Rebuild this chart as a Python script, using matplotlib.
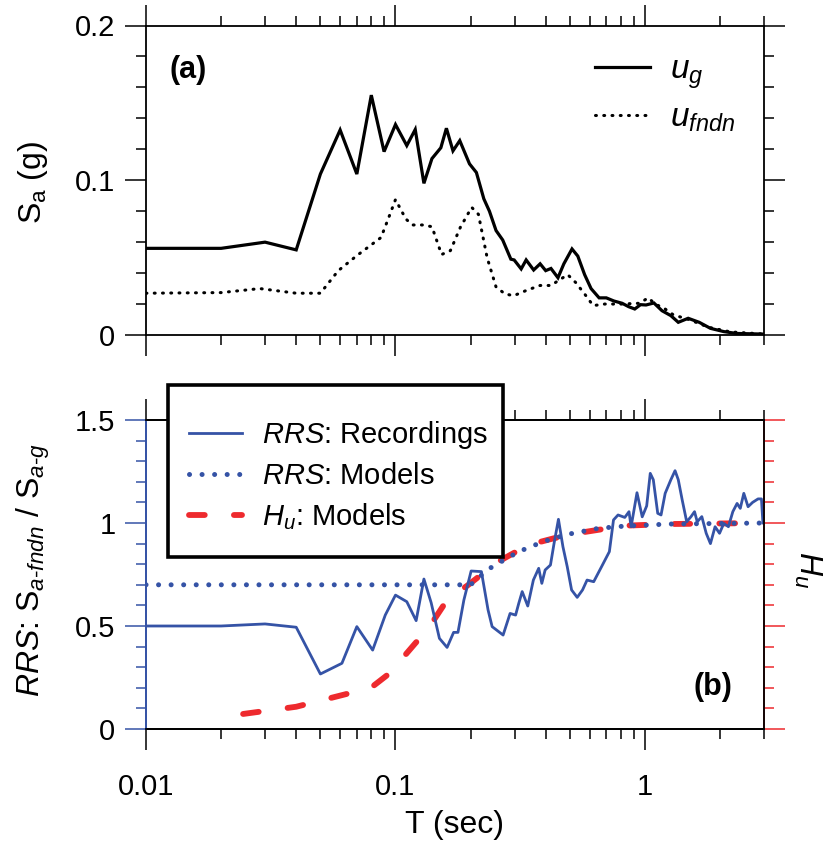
import matplotlib
matplotlib.use("Agg")
import matplotlib.pyplot as plt
from matplotlib.ticker import MultipleLocator, LogLocator, FixedLocator, NullFormatter, FixedFormatter
from matplotlib.lines import Line2D
from matplotlib.patches import Rectangle

plt.rcParams['font.family'] = ['Liberation Sans', 'DejaVu Sans']
plt.rcParams['mathtext.fontset'] = 'custom'
plt.rcParams['mathtext.rm'] = 'Liberation Sans'
plt.rcParams['mathtext.it'] = 'Liberation Sans:italic'
plt.rcParams['mathtext.bf'] = 'Liberation Sans:bold'

# ---------------- data ----------------
T_g = [0.01, 0.02, 0.03, 0.04, 0.05, 0.06, 0.07, 0.08, 0.09, 0.10, 0.111, 0.12, 0.13, 0.14,
       0.152, 0.16, 0.17, 0.181, 0.198, 0.211, 0.226, 0.238, 0.253, 0.269, 0.29, 0.299, 0.319,
       0.334, 0.358, 0.38, 0.40, 0.42, 0.448, 0.473, 0.51, 0.538, 0.573, 0.608, 0.655, 0.70,
       0.75, 0.81, 0.86, 0.91, 0.96, 1.01, 1.086, 1.17, 1.27, 1.36, 1.49, 1.65, 1.83, 2.07,
       2.33, 2.98]
Sa_g = [0.056, 0.056, 0.060, 0.055, 0.104, 0.1325, 0.104, 0.155, 0.1185, 0.136, 0.1224, 0.1328,
        0.098, 0.114, 0.121, 0.1336, 0.119, 0.1256, 0.1106, 0.105, 0.088, 0.080, 0.0675, 0.0614,
        0.049, 0.0485, 0.0427, 0.0485, 0.042, 0.046, 0.0416, 0.043, 0.037, 0.046, 0.0556, 0.051,
        0.039, 0.030, 0.024, 0.024, 0.022, 0.0205, 0.0183, 0.0168, 0.0196, 0.0194, 0.0207,
        0.0157, 0.0125, 0.0082, 0.0108, 0.0082, 0.0043, 0.0022, 0.001, 0.0006]

T_f = [0.01, 0.02, 0.0286, 0.04, 0.05, 0.059, 0.07, 0.0875, 0.094, 0.10, 0.11, 0.117, 0.128,
       0.14, 0.153, 0.166, 0.182, 0.202, 0.215, 0.233, 0.253, 0.275, 0.298, 0.337, 0.38, 0.42,
       0.448, 0.49, 0.527, 0.573, 0.62, 0.69, 0.80, 0.95, 1.03, 1.10, 1.20, 1.30, 1.50, 1.80,
       2.20, 3.0]
Sa_f = [0.027, 0.0274, 0.030, 0.027, 0.027, 0.0416, 0.0513, 0.063, 0.076, 0.0875, 0.075, 0.0711,
        0.0711, 0.070, 0.052, 0.0545, 0.0696, 0.0825, 0.078, 0.050, 0.031, 0.0265, 0.0254, 0.029,
        0.032, 0.032, 0.035, 0.039, 0.034, 0.0265, 0.019, 0.020, 0.020, 0.0205, 0.024, 0.020,
        0.017, 0.013, 0.010, 0.005, 0.002, 0.0006]

T_rec = [0.01, 0.02, 0.03, 0.04, 0.05, 0.061, 0.07, 0.081, 0.091, 0.10, 0.111, 0.121, 0.13,
         0.139, 0.15, 0.161, 0.171, 0.178, 0.188, 0.201, 0.221, 0.235, 0.244, 0.27, 0.288, 0.303,
         0.312, 0.322, 0.339, 0.357, 0.375, 0.386, 0.398, 0.418, 0.432, 0.45, 0.469, 0.488, 0.508,
         0.535, 0.562, 0.586, 0.623, 0.67, 0.72, 0.748, 0.78, 0.83, 0.863, 0.88, 0.929, 0.975,
         1.016, 1.05, 1.08, 1.125, 1.16, 1.205, 1.27, 1.32, 1.36, 1.41, 1.47, 1.53, 1.58, 1.62,
         1.69, 1.76, 1.83, 1.91, 1.99, 2.07, 2.16, 2.25, 2.34, 2.41, 2.49, 2.59, 2.70, 2.84, 2.93,
         2.97]
RRS_rec = [0.50, 0.50, 0.51, 0.494, 0.267, 0.319, 0.497, 0.383, 0.553, 0.65, 0.618, 0.526, 0.728,
           0.613, 0.44, 0.396, 0.469, 0.469, 0.626, 0.767, 0.764, 0.578, 0.497, 0.456, 0.561,
           0.553, 0.61, 0.667, 0.597, 0.723, 0.78, 0.707, 0.772, 0.796, 0.90, 1.018, 0.885, 0.788,
           0.675, 0.639, 0.675, 0.723, 0.715, 0.788, 0.861, 1.015, 1.039, 1.027, 1.055, 0.982,
           1.147, 1.03, 1.083, 1.241, 1.21, 1.047, 1.039, 1.144, 1.21, 1.254, 1.21, 1.112, 1.006,
           1.031, 1.055, 1.006, 1.031, 0.95, 0.90, 0.982, 0.95, 0.998, 0.982, 1.055, 1.095, 1.071,
           1.144, 1.079, 1.10, 1.117, 1.117, 1.0]

T_mod = [0.01, 0.05, 0.10, 0.15, 0.20, 0.235, 0.265, 0.312, 0.39, 0.49, 0.65, 0.83, 1.25, 3.0]
RRS_mod = [0.70, 0.70, 0.70, 0.70, 0.70, 0.775, 0.812, 0.861, 0.909, 0.945, 0.974, 0.985, 0.995, 1.0]

T_hu = [0.0245, 0.04, 0.0797, 0.0946, 0.12, 0.134, 0.161, 0.196, 0.216, 0.265, 0.34, 0.432, 0.55,
        0.83, 1.25, 3.0]
Hu = [0.073, 0.108, 0.20, 0.27, 0.416, 0.48, 0.626, 0.70, 0.74, 0.82, 0.893, 0.926, 0.953,
      0.987, 0.995, 1.0]

xticks = [0.01, 0.1, 1]
xticklabels = ['0.01', '0.1', '1']

BLUE = '#3553a6'
RED = '#ee2a2e'
FS_TICK = 21
FS_LAB = 23

RED_LS = (0, (2.7, 5.0))
DOT_LS = (0, (0.01, 2.5))

# ---------------- figure ----------------
fig = plt.figure(figsize=(8.33, 8.42), dpi=100)
W, H = 833, 842

def axrect(l, r, t, b):
    return [l / W, 1 - b / H, (r - l) / W, (b - t) / H]

ax1 = fig.add_axes(axrect(146, 764, 25.5, 335))
ax2 = fig.add_axes(axrect(146, 764, 420, 729), sharex=ax1)

def style_ticks(ax):
    ax.tick_params(which='major', direction='out', length=15, width=1.1, labelsize=FS_TICK, pad=7)
    ax.tick_params(which='minor', direction='out', length=7.5, width=1.1)

for ax in (ax1, ax2):
    for s in ax.spines.values():
        s.set_linewidth(1.3)
    ax.set_xscale('log')
    ax.set_xlim(0.01, 3)
    style_ticks(ax)

# ---- panel (a) ----
l_g, = ax1.plot(T_g, Sa_g, color='black', lw=2.3, solid_joinstyle='miter')
l_f, = ax1.plot(T_f, Sa_f, color='black', lw=2.2, linestyle=(0, (0.3, 2.4)),
                dash_capstyle='round')
ax1.set_ylim(0, 0.2)
ax1.yaxis.set_major_locator(FixedLocator([0, 0.1, 0.2]))
ax1.yaxis.set_major_formatter(FixedFormatter(['0', '0.1', '0.2']))
ax1.yaxis.set_minor_locator(MultipleLocator(0.02))
ax1.tick_params(which='both', top=True, right=True, labelbottom=False)
ax1.text(0.068, 0.855, '(a)', transform=ax1.transAxes, fontsize=22, fontweight='bold',
         ha='center', va='center')
leg1 = fig.legend([l_g, l_f], [r'$u_g$', r'$u_{fndn}$'], loc='upper left',
                  bbox_to_anchor=(585 / W, 1 - 45 / H), frameon=False,
                  fontsize=24, handlelength=1.65, handletextpad=0.6, labelspacing=0.35,
                  borderaxespad=0, borderpad=0.3)

# ---- panel (b) ----
ax2.plot(T_rec, RRS_rec, color=BLUE, lw=2.0)
ax2.plot(T_mod, RRS_mod, color=BLUE, lw=3.6, linestyle=DOT_LS, dash_capstyle='round')
ax2.set_ylim(0, 1.5)
ax2.yaxis.set_major_locator(FixedLocator([0, 0.5, 1, 1.5]))
ax2.yaxis.set_major_formatter(FixedFormatter(['0', '0.5', '1', '1.5']))
ax2.yaxis.set_minor_locator(MultipleLocator(0.1))
ax2.xaxis.set_major_locator(FixedLocator(xticks))
ax2.xaxis.set_major_formatter(FixedFormatter(xticklabels))
ax2.xaxis.set_minor_locator(LogLocator(base=10, subs=range(2, 10)))
ax2.xaxis.set_minor_formatter(NullFormatter())
ax2.tick_params(which='both', top=True, right=False)
ax2.tick_params(axis='x', which='major', pad=17)
ax2.tick_params(axis='y', which='both', colors=BLUE, labelcolor='black')
ax2.spines['left'].set_color(BLUE)

axr = ax2.twinx()
axr.set_ylim(0, 1.5)
axr.plot(T_hu, Hu, color=RED, lw=4.2, linestyle=RED_LS, dash_capstyle='round')
axr.yaxis.set_major_locator(FixedLocator([0, 0.5, 1, 1.5]))
axr.yaxis.set_minor_locator(MultipleLocator(0.1))
axr.tick_params(which='major', direction='out', length=15, width=1.1, colors=RED,
                labelright=False)
axr.tick_params(which='minor', direction='out', length=7.5, width=1.1, colors=RED)
axr.spines['right'].set_color(RED)
axr.spines['left'].set_color(BLUE)
for s in axr.spines.values():
    s.set_linewidth(1.3)
# keep the blue dotted model line on top of the red dashed one
ax2.set_zorder(axr.get_zorder() + 1)
ax2.patch.set_visible(False)

ax2.text(0.917, 0.135, '(b)', transform=ax2.transAxes, fontsize=22, fontweight='bold',
         ha='center', va='center')

# legend box of panel (b)
box = Rectangle((168 / W, 1 - 557 / H), (503 - 168) / W, (557 - 385) / H,
                transform=fig.transFigure, facecolor='white', edgecolor='black',
                linewidth=2.6, zorder=15)
fig.patches.append(box)

handles = [Line2D([], [], color=BLUE, lw=2.0),
           Line2D([], [], color=BLUE, lw=3.6, linestyle=DOT_LS, dash_capstyle='round'),
           Line2D([], [], color=RED, lw=4.2, linestyle=RED_LS, dash_capstyle='round')]
labels = [r'$\mathit{RRS}$: Recordings', r'$\mathit{RRS}$: Models', r'$H_u$: Models']
leg2 = fig.legend(handles, labels, loc='upper left', bbox_to_anchor=(189 / W, 1 - 419 / H),
                  fontsize=21, frameon=False, handlelength=1.82, handletextpad=0.69,
                  labelspacing=0.38, borderpad=0, borderaxespad=0)
leg2.set_zorder(20)

# ---- labels ----
fig.text(33 / W, 1 - 182 / H, r'S$_\mathrm{a}$ (g)', rotation=90, fontsize=FS_LAB,
         ha='center', va='center')
fig.text(33 / W, 1 - 570 / H, r'$\mathit{RRS}$: S$_{\mathit{a\text{-}fndn}}$ / S$_{\mathit{a\text{-}g}}$',
         rotation=90, fontsize=FS_LAB, ha='center', va='center')
fig.text(808 / W, 1 - 570 / H, r'$H_u$', rotation=270, fontsize=FS_LAB, ha='center', va='center')
fig.text(455 / W, 1 - 825 / H, 'T (sec)', fontsize=FS_LAB, ha='center', va='center')

fig.savefig('out.png', dpi=100)
